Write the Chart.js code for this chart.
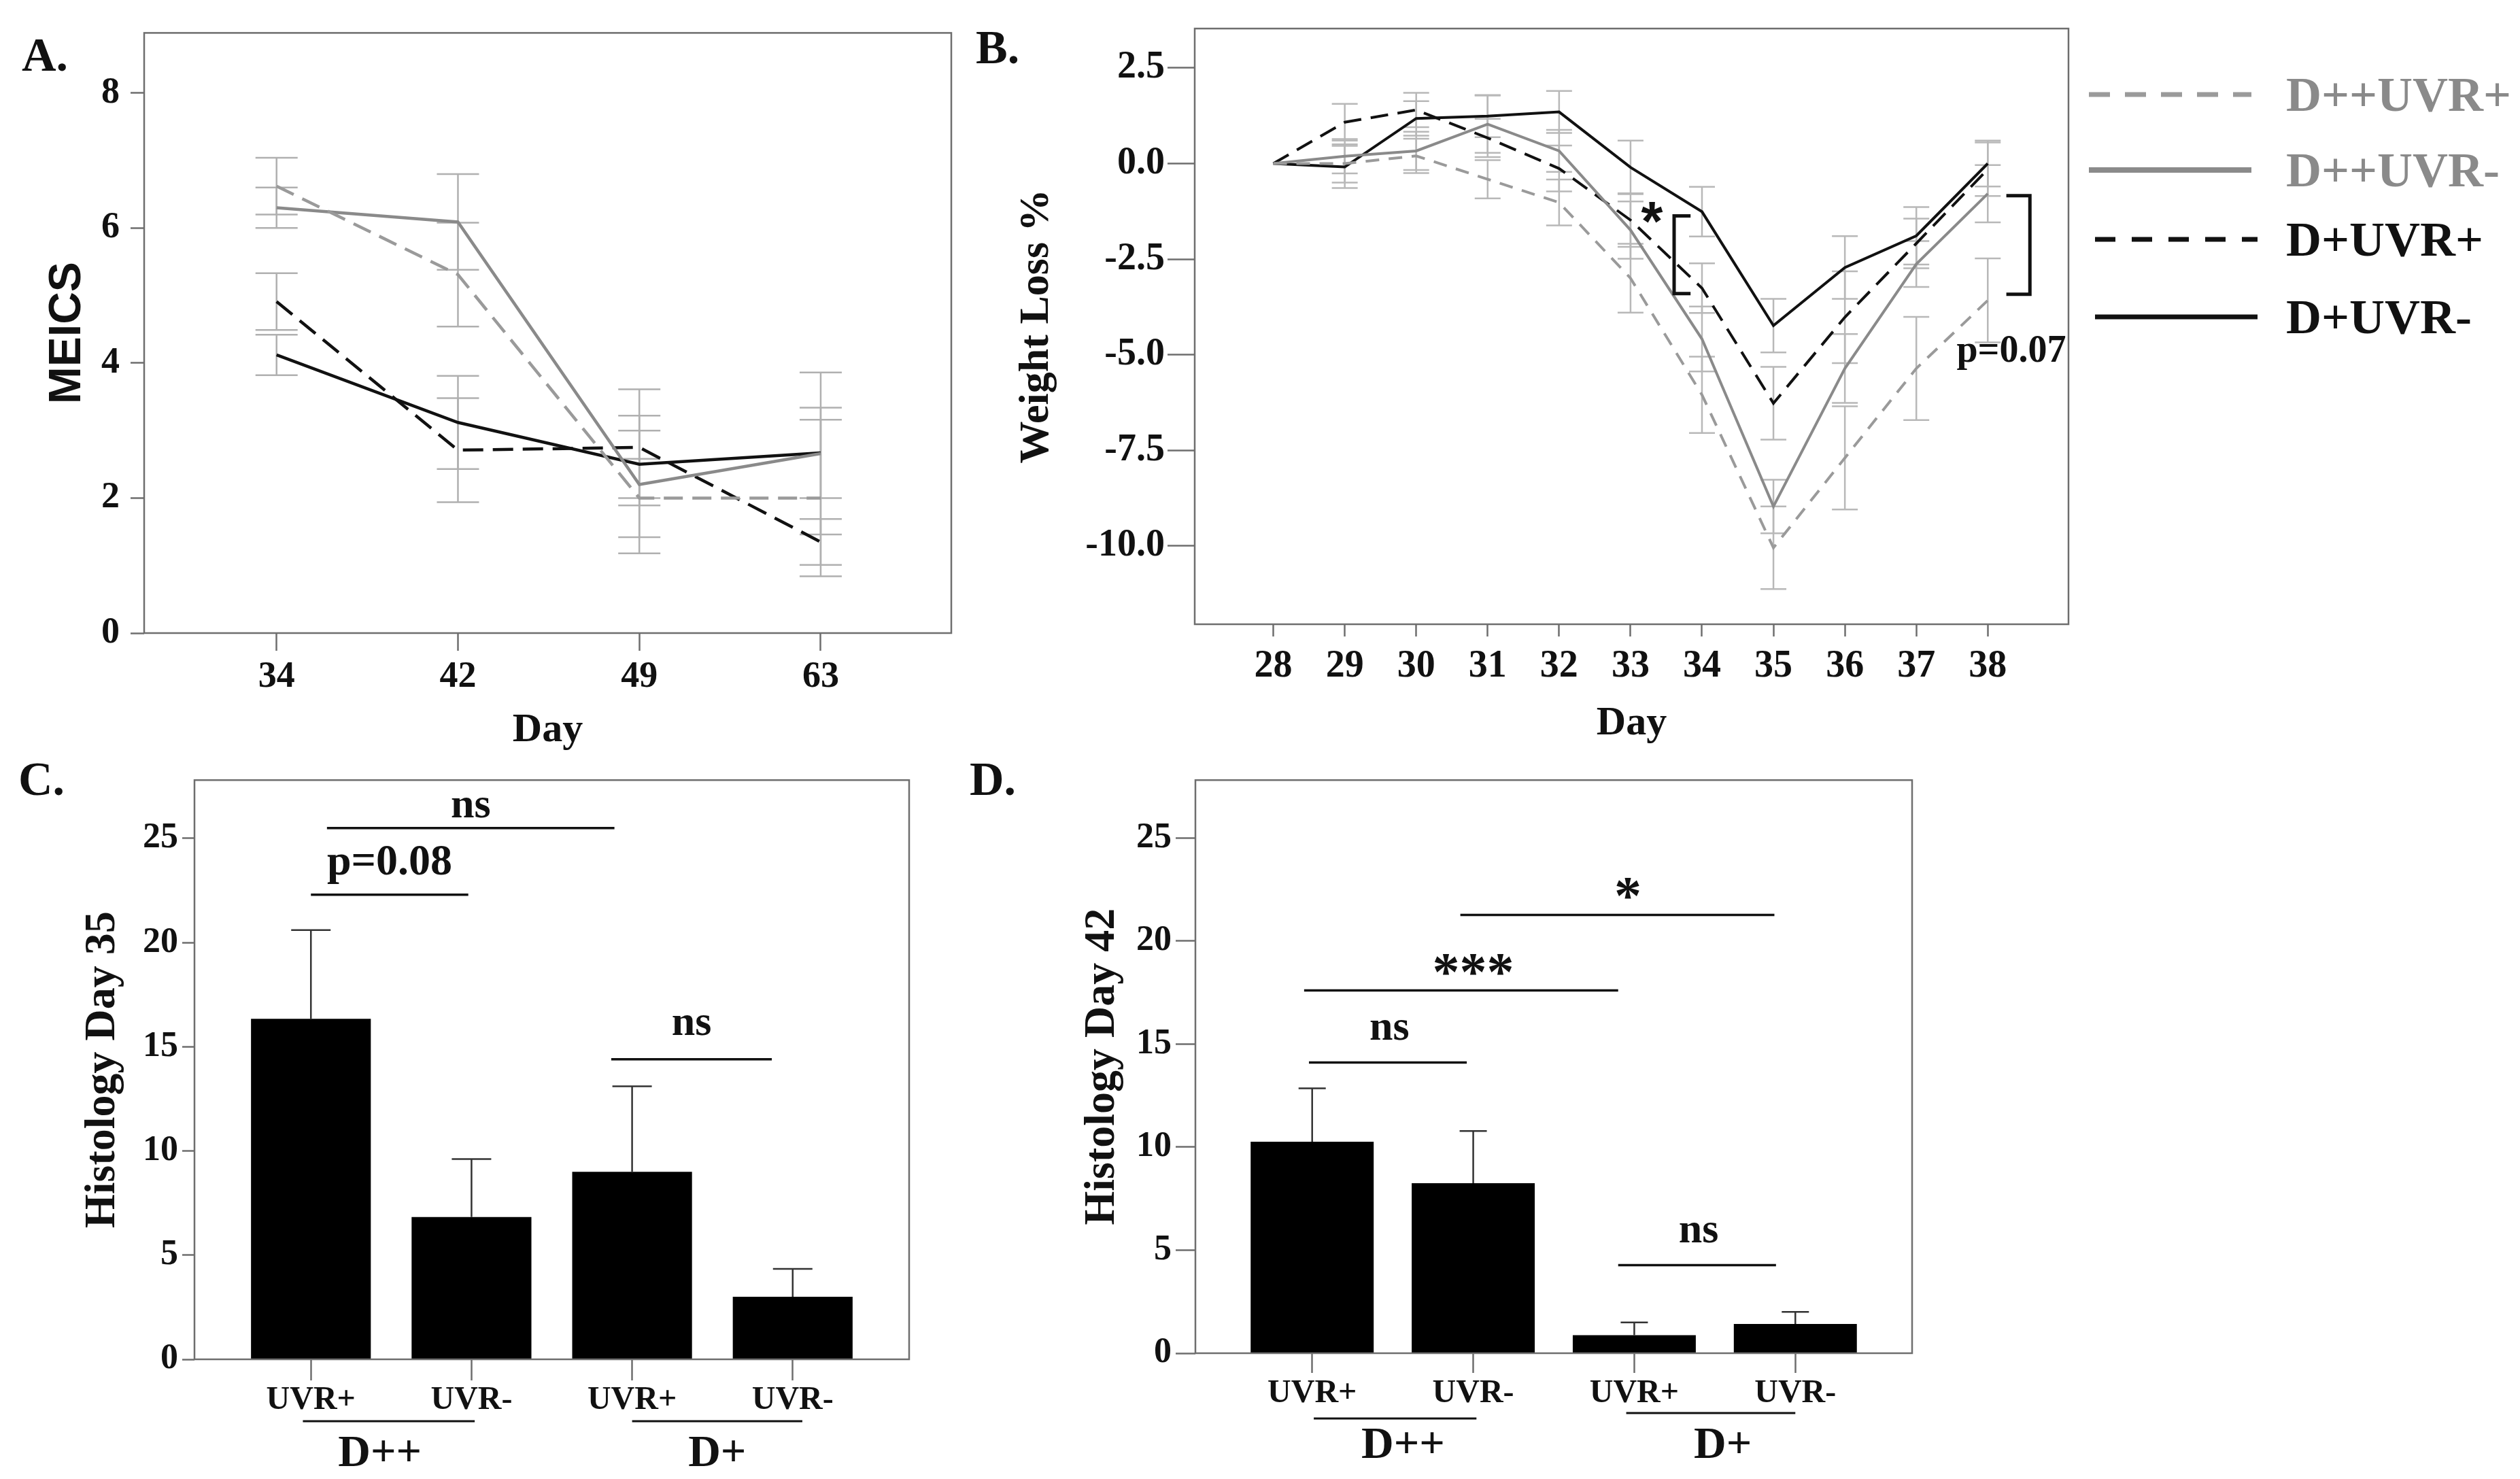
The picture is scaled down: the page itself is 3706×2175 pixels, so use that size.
<!DOCTYPE html>
<html>
<head>
<meta charset="utf-8">
<title>MEICS, weight loss and histology</title>
<script src="https://cdn.jsdelivr.net/npm/chart.js@4.4.1/dist/chart.umd.min.js"></script>
<style>
  html, body { margin: 0; padding: 0; background: #fff; }
  #fig { position: relative; width: 3706px; height: 2175px; overflow: hidden; background: #fff; }
  #fig canvas { position: absolute; }
  #overlay { position: absolute; left: 0; top: 0; pointer-events: none; }
</style>
</head>
<body>
<div id="fig">
  <canvas id="chartA" width="1420" height="1110" style="left:0;top:0"></canvas>
  <canvas id="chartB" width="1660" height="1110" style="left:1400px;top:0"></canvas>
  <canvas id="chartC" width="1360" height="1065" style="left:0;top:1110px"></canvas>
  <canvas id="chartD" width="1430" height="1065" style="left:1400px;top:1110px"></canvas>
  <svg id="overlay" width="3706" height="2175" xmlns="http://www.w3.org/2000/svg"></svg>
</div>
<script>
// ---- data ----
const seriesNames = ['D++UVR+', 'D++UVR-', 'D+UVR+', 'D+UVR-'];

// A: MEICS score
const meicsDays = ['34', '42', '49', '63'];
const meicsTicks = [0, 2, 4, 6, 8];
const meicsDppUvrPlus = [6.62, 5.31, 2.0, 2.0];
const meicsDppUvrPlusErr = [0.42, 0.77, 0.58, 1.16];
const meicsDppUvrMinus = [6.3, 6.09, 2.2, 2.66];
const meicsDppUvrMinusErr = [0.3, 0.71, 1.02, 1.2];
const meicsDpUvrPlus = [4.91, 2.71, 2.75, 1.35];
const meicsDpUvrPlusErr = [0.42, 0.77, 0.86, 0.34];
const meicsDpUvrMinus = [4.12, 3.12, 2.5, 2.67];
const meicsDpUvrMinusErr = [0.3, 0.69, 0.5, 0.67];

// B: weight loss %
const weightDays = [28, 29, 30, 31, 32, 33, 34, 35, 36, 37, 38];
const weightTicks = [2.5, 0, -2.5, -5, -7.5, -10];
const weightDppUvrPlus = [0, 0, 0.2, -0.41, -1.02, -3.0, -6.05, -10.05, -7.7, -5.36, -3.58];
const weightDppUvrPlusErr = [0, 0.5, 0.45, 0.5, 0.6, 0.9, 1.0, 1.08, 1.35, 1.35, 1.1];
const weightDppUvrMinus = [0, 0.19, 0.33, 1.03, 0.33, -1.74, -4.59, -8.97, -5.36, -2.63, -0.79];
const weightDppUvrMinusErr = [0, 0.45, 0.5, 0.75, 0.55, 0.75, 0.85, 0.7, 0.9, 0.6, 0.75];
const weightDpUvrPlus = [0, 1.08, 1.4, 0.67, -0.13, -1.48, -3.26, -6.27, -4.02, -2.09, -0.15];
const weightDpUvrPlusErr = [0, 0.48, 0.45, 0.5, 0.6, 0.7, 0.65, 0.95, 1.2, 0.65, 0.7];
const weightDpUvrMinus = [0, -0.09, 1.18, 1.24, 1.35, -0.1, -1.26, -4.24, -2.72, -1.89, 0.0];
const weightDpUvrMinusErr = [0, 0.55, 0.45, 0.55, 0.55, 0.7, 0.65, 0.7, 0.82, 0.75, 0.6];

// C, D: histology
const histLabels = ['UVR+', 'UVR-', 'UVR+', 'UVR-'];
const histGroups = ['D++', 'D+'];
const histTicks = [0, 5, 10, 15, 20, 25];
const hist35 = [16.34, 6.83, 9.0, 3.0];
const hist35Err = [4.26, 2.78, 4.1, 1.34];
const hist42 = [10.26, 8.25, 0.87, 1.42];
const hist42Err = [2.59, 2.53, 0.62, 0.58];

// ---- styling ----
const SERIF = 'Liberation Serif';
const SANS = 'Liberation Sans';
const INK = '#111111';
const FRAME = '#6e6e6e';
const GRAY_DASH = '#9a9a9a';
const GRAY = '#8a8a8a';

function pts(xs, ys) { return ys.map((y, i) => ({ x: xs[i], y: y })); }
const idx = arr => arr.map((_, i) => i);

function yAxis(o) {
  return {
    type: 'linear', position: 'left', min: o.min, max: o.max,
    afterBuildTicks: s => { s.ticks = o.ticks.map(v => ({ value: v })); },
    afterFit: s => { s.width = o.width; },
    grid: { display: true, drawOnChartArea: false, drawTicks: true, tickLength: o.tick, tickWidth: 2.5, tickColor: FRAME },
    border: { display: false },
    ticks: { autoSkip: false, font: { family: SERIF, weight: 'bold', size: o.fs }, color: INK, padding: o.pad, callback: o.fmt },
    title: { display: true, text: o.title, color: INK, font: o.titleFont, padding: { top: o.tpad, bottom: 0 } }
  };
}
function xAxis(o) {
  return {
    type: 'linear', position: 'bottom', min: o.min, max: o.max, offset: false,
    afterBuildTicks: s => { s.ticks = o.ticks.map(v => ({ value: v })); },
    afterFit: s => { s.height = o.height; },
    grid: { display: true, offset: false, drawOnChartArea: false, drawTicks: true, tickLength: o.tick, tickWidth: 2.5, tickColor: FRAME },
    border: { display: false },
    ticks: { autoSkip: false, maxRotation: 0, font: { family: SERIF, weight: 'bold', size: o.fs }, color: INK, padding: o.pad, callback: o.fmt },
    title: o.title ? { display: true, text: o.title, color: INK, font: { family: SERIF, weight: 'bold', size: 60 }, padding: { top: 0, bottom: o.tpad } } : { display: false }
  };
}

// plot frame around the chart area
const frame = {
  id: 'frame',
  afterDraw(chart) {
    const { ctx, chartArea: a } = chart;
    ctx.save();
    ctx.strokeStyle = FRAME; ctx.lineWidth = 2.5;
    ctx.strokeRect(a.left, a.top, a.right - a.left, a.bottom - a.top);
    ctx.restore();
  }
};

// error bars from dataset.errors
function errorBars(o) {
  function draw(chart) {
    const { ctx, scales: { x, y } } = chart;
    ctx.save();
    ctx.strokeStyle = o.color; ctx.lineWidth = o.width; ctx.setLineDash([]);
    chart.data.datasets.forEach(ds => {
      (ds.errors || []).forEach((e, i) => {
        if (!e) return;
        const p = ds.data[i];
        const px = x.getPixelForValue(p.x);
        const top = y.getPixelForValue(p.y + e);
        const bot = y.getPixelForValue(o.upOnly ? p.y : p.y - e);
        ctx.beginPath();
        ctx.moveTo(px, top); ctx.lineTo(px, bot);
        ctx.moveTo(px - o.cap, top); ctx.lineTo(px + o.cap, top);
        if (!o.upOnly) { ctx.moveTo(px - o.cap, bot); ctx.lineTo(px + o.cap, bot); }
        ctx.stroke();
      });
    });
    ctx.restore();
  }
  return {
    id: 'errorBars',
    beforeDatasetsDraw(chart) { if (o.under) draw(chart); },
    afterDatasetsDraw(chart) { if (!o.under) draw(chart); }
  };
}

// significance lines, brackets and their labels (data units)
function sigMarks(items) {
  return {
    id: 'sig',
    afterDatasetsDraw(chart) {
      const { ctx, scales: { x, y } } = chart;
      ctx.save();
      ctx.strokeStyle = INK; ctx.fillStyle = INK; ctx.setLineDash([]);
      items.forEach(m => {
        ctx.lineWidth = m.lw || 3.5;
        ctx.beginPath();
        if (m.type === 'bracket') {
          ctx.moveTo(x.getPixelForValue(m.tip), y.getPixelForValue(m.y1));
          ctx.lineTo(x.getPixelForValue(m.x), y.getPixelForValue(m.y1));
          ctx.lineTo(x.getPixelForValue(m.x), y.getPixelForValue(m.y2));
          ctx.lineTo(x.getPixelForValue(m.tip), y.getPixelForValue(m.y2));
          ctx.stroke();
        } else if (m.type === 'line') {
          ctx.moveTo(x.getPixelForValue(m.x1), y.getPixelForValue(m.y));
          ctx.lineTo(x.getPixelForValue(m.x2), y.getPixelForValue(m.y));
          ctx.stroke();
        }
        if (m.text) {
          ctx.font = m.font || `bold 62px "${SERIF}"`;
          ctx.textAlign = 'center'; ctx.textBaseline = 'alphabetic';
          const tx = m.tx !== undefined ? m.tx : (m.x1 + m.x2) / 2;
          ctx.fillText(m.text, x.getPixelForValue(tx), y.getPixelForValue(m.ty));
        }
      });
      ctx.restore();
    }
  };
}

// group underlines + labels below the x axis
function groupLabels(groups) {
  return {
    id: 'groups',
    afterDraw(chart) {
      const { ctx, scales: { x }, chartArea: a } = chart;
      ctx.save();
      ctx.strokeStyle = INK; ctx.fillStyle = INK; ctx.lineWidth = 3;
      ctx.font = `bold 66px "${SERIF}"`;
      ctx.textAlign = 'center'; ctx.textBaseline = 'middle';
      groups.forEach(g => {
        ctx.beginPath();
        ctx.moveTo(x.getPixelForValue(g.x1), a.bottom + g.lineDy);
        ctx.lineTo(x.getPixelForValue(g.x2), a.bottom + g.lineDy);
        ctx.stroke();
        ctx.fillText(g.text, x.getPixelForValue(g.tx), a.bottom + g.textDy);
      });
      ctx.restore();
    }
  };
}

const baseOptions = {
  responsive: false, animation: false, devicePixelRatio: 1,
  plugins: { legend: { display: false }, tooltip: { enabled: false } },
  elements: { point: { radius: 0 }, line: { tension: 0 } }
};

function lineSet(label, xs, ys, errs, color, dash, width) {
  return { label: label, data: pts(xs, ys), errors: errs, borderColor: color, borderWidth: width,
           borderDash: dash, fill: false, pointRadius: 0 };
}

// ---- A ----
const meicsX = idx(meicsDays);
new Chart(document.getElementById('chartA'), {
  type: 'line',
  data: {
    datasets: [
      lineSet(seriesNames[0], meicsX, meicsDppUvrPlus, meicsDppUvrPlusErr, GRAY_DASH, [28, 14], 4.5),
      lineSet(seriesNames[1], meicsX, meicsDppUvrMinus, meicsDppUvrMinusErr, GRAY, [], 4.5),
      lineSet(seriesNames[2], meicsX, meicsDpUvrPlus, meicsDpUvrPlusErr, INK, [30, 14], 4.5),
      lineSet(seriesNames[3], meicsX, meicsDpUvrMinus, meicsDpUvrMinusErr, INK, [], 4.5)
    ]
  },
  options: Object.assign({}, baseOptions, {
    layout: { padding: { top: 48, right: 21, bottom: 0, left: 0 } },
    scales: {
      x: xAxis({ min: -0.73, max: 3.72, ticks: meicsX, height: 179, tick: 26, pad: 7, fs: 54,
                 fmt: v => meicsDays[v], title: 'Day', tpad: 0 }),
      y: yAxis({ min: 0, max: 8.89, ticks: meicsTicks, width: 212, tick: 20, pad: 16, fs: 54,
                 fmt: v => String(v), title: 'MEICS', titleFont: { family: SANS, weight: 'bold', size: 66 }, tpad: 60 })
    }
  }),
  plugins: [frame, errorBars({ under: true, color: '#b0b0b0', width: 2.5, cap: 31 })]
});

// ---- B ----
new Chart(document.getElementById('chartB'), {
  type: 'line',
  data: {
    datasets: [
      lineSet(seriesNames[0], weightDays, weightDppUvrPlus, weightDppUvrPlusErr, GRAY_DASH, [20, 14], 4),
      lineSet(seriesNames[1], weightDays, weightDppUvrMinus, weightDppUvrMinusErr, GRAY, [], 4),
      lineSet(seriesNames[2], weightDays, weightDpUvrPlus, weightDpUvrPlusErr, INK, [26, 14], 4),
      lineSet(seriesNames[3], weightDays, weightDpUvrMinus, weightDpUvrMinusErr, INK, [], 4)
    ]
  },
  options: Object.assign({}, baseOptions, {
    layout: { padding: { top: 42, right: 18, bottom: 0, left: 0 } },
    scales: {
      x: xAxis({ min: 26.9, max: 39.13, ticks: weightDays, height: 192, tick: 18, pad: 11, fs: 56,
                 fmt: v => String(v), title: 'Day', tpad: 10 }),
      y: yAxis({ min: -12.05, max: 3.53, ticks: weightTicks, width: 357, tick: 40, pad: 4, fs: 56,
                 fmt: v => v.toFixed(1), title: 'Weight Loss %', titleFont: { family: SERIF, weight: 'bold', size: 62 }, tpad: 88 })
    }
  }),
  plugins: [frame, errorBars({ under: true, color: '#b8b8b8', width: 2.5, cap: 19 }),
    sigMarks([
      { type: 'text', text: '*', tx: 33.3, ty: -2.0, font: `bold 82px "${SANS}"` },
      { type: 'bracket', x: 33.61, tip: 33.84, y1: -1.37, y2: -3.4, lw: 5 },
      { type: 'bracket', x: 38.59, tip: 38.26, y1: -0.84, y2: -3.42, lw: 5 },
      { type: 'text', text: 'p=0.07', tx: 38.33, ty: -5.18, font: `bold 56px "${SERIF}"` }
    ])]
});

// ---- C, D ----
const histX = idx(histLabels);
function histChart(id, values, errs, title, o) {
  new Chart(document.getElementById(id), {
    type: 'bar',
    data: {
      datasets: [{ label: title, data: pts(histX, values), errors: errs, backgroundColor: '#000',
                   borderWidth: 0, categoryPercentage: 1, barPercentage: o.barPct }]
    },
    options: Object.assign({}, baseOptions, {
      layout: { padding: o.padding },
      scales: {
        x: xAxis({ min: -0.725, max: 3.725, ticks: histX, height: o.xh, tick: o.xtick, pad: o.xpad, fs: 48,
                   fmt: v => histLabels[v] }),
        y: yAxis({ min: 0, max: 27.8, ticks: histTicks, width: o.yw, tick: o.ytick, pad: 6, fs: 52,
                   fmt: v => String(v), title: title, titleFont: { family: SERIF, weight: 'bold', size: 64 }, tpad: o.tpad })
      }
    }),
    plugins: [frame, errorBars({ under: false, upOnly: true, color: '#333', width: 2.5, cap: o.cap }),
              sigMarks(o.marks), groupLabels(o.groups)]
  });
}

histChart('chartC', hist35, hist35Err, 'Histology Day 35', {
  barPct: 0.746, padding: { top: 34, right: 23, bottom: 0, left: 0 },
  xh: 176, xtick: 31, xpad: 1, yw: 286, ytick: 18, tpad: 113, cap: 29,
  marks: [
    { type: 'line', x1: 0.1, x2: 1.89, y: 25.5, text: 'ns', ty: 26.0 },
    { type: 'line', x1: 0.0, x2: 0.98, y: 22.3, text: 'p=0.08', ty: 23.27, font: `bold 64px "${SERIF}"` },
    { type: 'line', x1: 1.87, x2: 2.87, y: 14.4, text: 'ns', ty: 15.57 }
  ],
  groups: [
    { text: histGroups[0], x1: -0.05, x2: 1.02, tx: 0.43, lineDy: 91, textDy: 140 },
    { text: histGroups[1], x1: 2.0, x2: 3.06, tx: 2.53, lineDy: 91, textDy: 140 }
  ]
});

histChart('chartD', hist42, hist42Err, 'Histology Day 42', {
  barPct: 0.764, padding: { top: 22, right: 18, bottom: 0, left: 0 },
  xh: 185, xtick: 29, xpad: 2, yw: 358, ytick: 29, tpad: 183, cap: 20,
  marks: [
    { type: 'line', x1: 0.92, x2: 2.87, y: 21.26, text: '*', tx: 1.96, ty: 21.3, font: `bold 80px "${SERIF}"` },
    { type: 'line', x1: -0.05, x2: 1.9, y: 17.6, text: '***', tx: 1.0, ty: 17.6, font: `bold 80px "${SERIF}"` },
    { type: 'line', x1: -0.02, x2: 0.96, y: 14.1, text: 'ns', tx: 0.48, ty: 15.2 },
    { type: 'line', x1: 1.9, x2: 2.88, y: 4.27, text: 'ns', tx: 2.4, ty: 5.37 }
  ],
  groups: [
    { text: histGroups[0], x1: 0.01, x2: 1.02, tx: 0.565, lineDy: 96, textDy: 137 },
    { text: histGroups[1], x1: 1.95, x2: 3.0, tx: 2.55, lineDy: 88, textDy: 137 }
  ]
});

// ---- panel letters and legend (SVG text) ----
const svg = document.getElementById('overlay');
const NS = 'http://www.w3.org/2000/svg';
function svgEl(tag, attrs, text) {
  const el = document.createElementNS(NS, tag);
  Object.keys(attrs).forEach(k => el.setAttribute(k, attrs[k]));
  if (text) el.textContent = text;
  svg.appendChild(el);
  return el;
}
const panelLetters = [['A.', 32, 104], ['B.', 1435, 93], ['C.', 27, 1169], ['D.', 1426, 1169]];
panelLetters.forEach(([t, x, y]) => svgEl('text', { x: x, y: y, 'font-family': SERIF, 'font-weight': 'bold', 'font-size': 70, fill: INK }, t));

const legendStyle = [
  { color: GRAY_DASH, text: GRAY, dash: '31 22', w: 7, x1: 3072, x2: 3311, y: 139 },
  { color: GRAY, text: GRAY, dash: 'none', w: 8, x1: 3072, x2: 3311, y: 250 },
  { color: INK, text: INK, dash: '30 24', w: 7, x1: 3081, x2: 3320, y: 352 },
  { color: INK, text: INK, dash: 'none', w: 7, x1: 3081, x2: 3320, y: 466 }
];
seriesNames.forEach((name, i) => {
  const s = legendStyle[i];
  svgEl('line', { x1: s.x1, x2: s.x2, y1: s.y, y2: s.y, stroke: s.color, 'stroke-width': s.w, 'stroke-dasharray': s.dash });
  svgEl('text', { x: 3362, y: s.y + 24, 'font-family': SERIF, 'font-weight': 'bold', 'font-size': 72, fill: s.text }, name);
});
</script>
</body>
</html>
